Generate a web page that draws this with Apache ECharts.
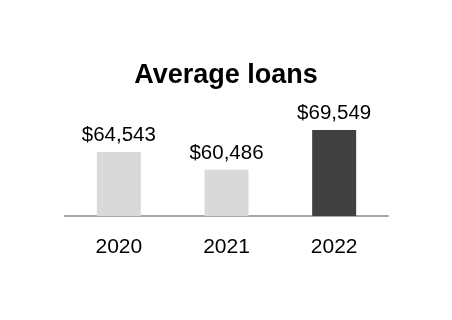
<!DOCTYPE html>
<html>
<head>
<meta charset="utf-8">
<script src="https://cdn.jsdelivr.net/npm/echarts@6/dist/echarts.min.js"></script>
<style>html,body{margin:0;padding:0;background:#fff;}#c{width:452px;height:320px;}</style>
</head>
<body>
<div id="c"></div>
<script>
const categories = ['2020', '2021', '2022'];
const values = [64543, 60486, 69549];
const barColors = ['#d9d9d9', '#d9d9d9', '#404040'];
const titleText = 'Average loans';

const chart = echarts.init(document.getElementById('c'), null, {renderer: 'canvas'});
chart.setOption({
  animation: false,
  backgroundColor: '#ffffff',
  title: {
    text: titleText,
    left: 'center',
    top: 57,
    textStyle: {fontFamily: 'Liberation Sans, Arial', fontSize: 27, fontWeight: 'bold', color: '#000'}
  },
  grid: {left: 65, right: 64, top: 84, bottom: 104},
  xAxis: {
    type: 'category',
    data: categories,
    axisLine: {show: true, lineStyle: {color: '#a6a6a6', width: 2}},
    axisTick: {show: false},
    axisLabel: {margin: 21, fontFamily: 'Liberation Sans, Arial', fontSize: 21, color: '#000'}
  },
  yAxis: {
    type: 'value',
    min: 50000,
    max: 80000,
    show: false,
    splitLine: {show: false}
  },
  series: [{
    type: 'bar',
    barWidth: 44,
    data: values.map((v, i) => ({value: v, itemStyle: {color: barColors[i]}})),
    label: {
      show: true,
      position: 'top',
      distance: 6,
      fontFamily: 'Liberation Sans, Arial',
      fontSize: 20.5,
      color: '#000',
      formatter: p => '$' + p.value.toLocaleString('en-US')
    }
  }]
});
</script>
</body>
</html>
